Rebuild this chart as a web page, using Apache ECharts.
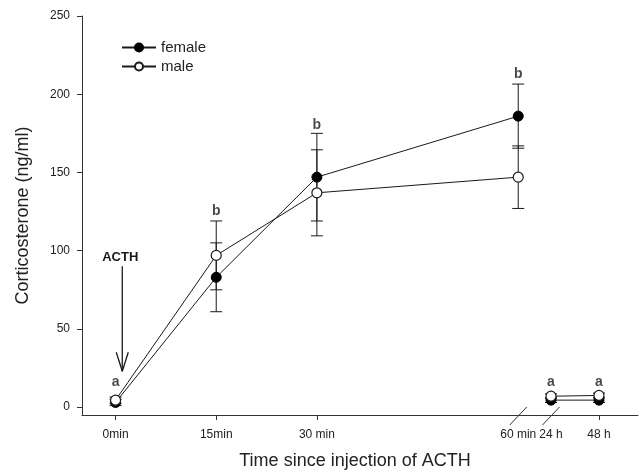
<!DOCTYPE html>
<html>
<head>
<meta charset="utf-8">
<script src="https://cdn.jsdelivr.net/npm/echarts@6/dist/echarts.min.js"></script>
<style>
  html, body { margin: 0; padding: 0; background: #fff; }
  #chart { width: 641px; height: 472px; }
</style>
</head>
<body>
<div id="chart"></div>
<script>
// time points (minutes on the left part, hours after the axis break)
var leftTimes = [0, 15, 30, 60];
var rightTimes = [24, 48];
var leftLabels = ['0min', '15min', '30 min', '60 min'];
var rightLabels = ['24 h', '48 h'];

var femaleLeft = [3, 83, 147, 186];
var femaleRight = [4.5, 4.5];
var femaleErrLeft = [2, 22, 28, 20.5];
var femaleErrRight = [1.5, 1.5];

var maleLeft = [4.5, 97, 137, 147];
var maleRight = [7, 7.5];
var maleErrLeft = [2, 22, 27.5, 20];
var maleErrRight = [1.5, 1.5];

// significance letters and where they sit
var lettersLeft = ['a', 'b', 'b', 'b'];
var lettersRight = ['a', 'a'];
var letterPosLeft = [16, 125, 180, 213];
var letterPosRight = [16, 16];

var yTicks = [0, 50, 100, 150, 200, 250];

var ink = '#1a1a1a';
var font = 'Liberation Sans, Arial, sans-serif';

function pairs(xs, ys) {
  return xs.map(function (x, i) { return [x, ys[i]]; });
}
function errData(xs, ys, es) {
  return xs.map(function (x, i) { return [x, ys[i] - es[i], ys[i] + es[i]]; });
}
function letterData(xs, ys, ls) {
  return xs.map(function (x, i) { return { value: [x, ys[i]], name: ls[i] }; });
}

function renderErr(params, api) {
  var x = api.value(0);
  var lo = api.coord([x, api.value(1)]);
  var hi = api.coord([x, api.value(2)]);
  var w = 6;
  var st = { stroke: ink, lineWidth: 1 };
  return {
    type: 'group',
    children: [
      { type: 'line', shape: { x1: lo[0], y1: lo[1], x2: hi[0], y2: hi[1] }, style: st },
      { type: 'line', shape: { x1: lo[0] - w, y1: lo[1], x2: lo[0] + w, y2: lo[1] }, style: st },
      { type: 'line', shape: { x1: hi[0] - w, y1: hi[1], x2: hi[0] + w, y2: hi[1] }, style: st }
    ]
  };
}

function renderBreak(params, api) {
  var p = api.coord([api.value(0), -5]);
  return {
    type: 'line',
    shape: { x1: p[0] - 8.5, y1: p[1] + 10, x2: p[0] + 8.5, y2: p[1] - 8 },
    style: { stroke: '#333', lineWidth: 1 }
  };
}

function renderArrow(params, api) {
  var x = api.value(0);
  var top = api.coord([x, api.value(1)]);
  var tip = api.coord([x, api.value(2)]);
  var lab = api.coord([x, api.value(3)]);
  var st = { stroke: ink, lineWidth: 1.3 };
  return {
    type: 'group',
    children: [
      { type: 'line', shape: { x1: top[0], y1: top[1], x2: tip[0], y2: tip[1] }, style: st },
      { type: 'line', shape: { x1: tip[0] - 6, y1: tip[1] - 19, x2: tip[0], y2: tip[1] }, style: st },
      { type: 'line', shape: { x1: tip[0] + 6, y1: tip[1] - 19, x2: tip[0], y2: tip[1] }, style: st },
      { type: 'text', style: { text: 'ACTH', x: lab[0] - 2, y: lab[1], align: 'center', verticalAlign: 'middle',
        fill: ink, font: 'bold 13px ' + font } }
    ]
  };
}

function lineSeries(name, data, xi, filled) {
  return {
    name: name,
    type: 'line',
    xAxisIndex: xi,
    yAxisIndex: xi,
    data: data,
    symbol: 'circle',
    symbolSize: 10,
    z: 5,
    lineStyle: { color: ink, width: 1 },
    itemStyle: filled ? { color: '#000', borderColor: '#000', borderWidth: 1 }
                      : { color: '#fff', borderColor: ink, borderWidth: 1.2 }
  };
}

function errSeries(data, xi) {
  return {
    type: 'custom',
    xAxisIndex: xi,
    yAxisIndex: xi,
    renderItem: renderErr,
    encode: { x: 0, y: [1, 2] },
    data: data,
    z: 2,
    silent: true
  };
}

function letterSeries(data, xi) {
  return {
    type: 'scatter',
    xAxisIndex: xi,
    yAxisIndex: xi,
    symbolSize: 0,
    data: data,
    label: {
      show: true,
      position: 'inside',
      formatter: function (p) { return p.name; },
      color: ink,
      fontFamily: font,
      fontWeight: 'bold',
      fontSize: 14
    },
    silent: true
  };
}

var axisLabelStyle = { color: '#222', fontFamily: font, fontSize: 12 };

var option = {
  animation: false,
  backgroundColor: '#fff',
  title: {
    text: 'Time since injection of ACTH',
    left: 350,
    top: 447,
    textAlign: 'center',
    textStyle: { color: '#222', fontFamily: font, fontSize: 18, fontWeight: 'normal' }
  },
  legend: {
    orient: 'vertical',
    left: 116,
    top: 35,
    itemWidth: 34,
    itemHeight: 10,
    itemGap: 4,
    data: ['female', 'male'],
    textStyle: { color: '#222', fontFamily: font, fontSize: 15 }
  },
  grid: [
    { left: 82, width: 453, top: 16, bottom: 57 },
    { left: 535, right: 3, top: 16, bottom: 57 }
  ],
  xAxis: [
    {
      type: 'value', gridIndex: 0, min: -5, max: 62.5,
      splitLine: { show: false },
      axisLine: { onZero: false, lineStyle: { color: '#333' } },
      axisTick: { show: true, customValues: [0, 15, 30], length: 5, inside: false, lineStyle: { color: '#333' } },
      axisLabel: Object.assign({ customValues: leftTimes, margin: 14,
        formatter: function (v) { return leftLabels[leftTimes.indexOf(v)]; } }, axisLabelStyle)
    },
    {
      type: 'value', gridIndex: 1, min: 16, max: 67.5,
      splitLine: { show: false },
      axisLine: { onZero: false, lineStyle: { color: '#333' } },
      axisTick: { show: true, customValues: [48], length: 5, lineStyle: { color: '#333' } },
      axisLabel: Object.assign({ customValues: rightTimes, margin: 14,
        formatter: function (v) { return rightLabels[rightTimes.indexOf(v)]; } }, axisLabelStyle)
    }
  ],
  yAxis: [
    {
      type: 'value', gridIndex: 0, min: -5, max: 250,
      name: 'Corticosterone (ng/ml)',
      nameLocation: 'middle',
      nameGap: 50,
      nameTextStyle: { color: '#222', fontFamily: font, fontSize: 18 },
      splitLine: { show: false },
      axisLine: { show: true, onZero: false, lineStyle: { color: '#333' } },
      axisTick: { show: true, customValues: yTicks, length: 5, lineStyle: { color: '#333' } },
      axisLabel: Object.assign({ customValues: yTicks, margin: 12 }, axisLabelStyle)
    },
    {
      type: 'value', gridIndex: 1, min: -5, max: 250, show: false
    }
  ],
  series: [
    errSeries(errData(leftTimes, femaleLeft, femaleErrLeft), 0),
    errSeries(errData(leftTimes, maleLeft, maleErrLeft), 0),
    errSeries(errData(rightTimes, femaleRight, femaleErrRight), 1),
    errSeries(errData(rightTimes, maleRight, maleErrRight), 1),
    lineSeries('female', pairs(leftTimes, femaleLeft), 0, true),
    lineSeries('female', pairs(rightTimes, femaleRight), 1, true),
    lineSeries('male', pairs(leftTimes, maleLeft), 0, false),
    lineSeries('male', pairs(rightTimes, maleRight), 1, false),
    letterSeries(letterData(leftTimes, letterPosLeft, lettersLeft), 0),
    letterSeries(letterData(rightTimes, letterPosRight, lettersRight), 1),
    {
      type: 'custom', xAxisIndex: 0, yAxisIndex: 0, clip: false, silent: true,
      renderItem: renderArrow, encode: { x: 0, y: [1, 2] },
      data: [[1, 90, 23, 96]]
    },
    {
      type: 'custom', xAxisIndex: 0, yAxisIndex: 0, clip: false, silent: true,
      renderItem: renderBreak, encode: { x: 0 }, data: [[60]], z: 6
    },
    {
      type: 'custom', xAxisIndex: 1, yAxisIndex: 1, clip: false, silent: true,
      renderItem: renderBreak, encode: { x: 0 }, data: [[24]], z: 6
    }
  ]
};

var chart = echarts.init(document.getElementById('chart'), null, { renderer: 'canvas' });
chart.setOption(option);
</script>
</body>
</html>
